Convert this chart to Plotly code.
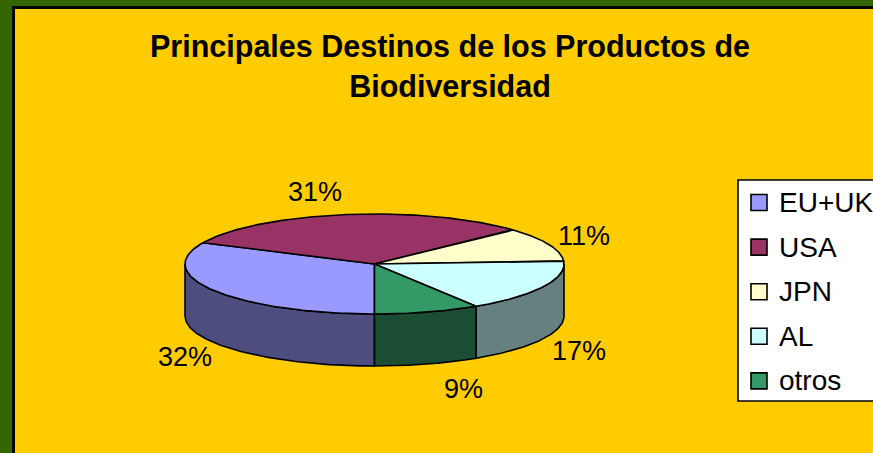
import numpy as np
import plotly.graph_objects as go

# ---------------- data ----------------
categories = ["EU+UK", "USA", "JPN", "AL", "otros"]
values = [32, 31, 11, 17, 9]
top_colors = ["#9999FF", "#993366", "#FFFFCC", "#CCFFFF", "#339966"]
side_colors = ["#4D4D80", "#4D1A33", "#808066", "#668080", "#1A4D33"]
title_text = "Principales Destinos de los Productos de<br>Biodiversidad"

# ---------------- geometry / style ----------------
W, H = 873, 453
CX, CY, RX, RY, DEPTH = 374.5, 264, 189.5, 50, 52
START = 180          # first slice starts at 6 o'clock, clockwise
FONT = "Arial, Liberation Sans, sans-serif"

total = float(sum(values))
fracs = np.array(values) / total
ends = START + np.cumsum(fracs) * 360
starts = ends - fracs * 360


def pt(theta_deg, dy=0.0):
    t = np.radians(theta_deg)
    return CX + RX * np.sin(t), CY - RY * np.cos(t) + dy


def px(x):
    return x / W


def py(y):
    return 1 - y / H


fig = go.Figure()

# side walls (front half only)
for i in range(len(values)):
    a0, a1 = starts[i], ends[i]
    for k in (0, 360):
        lo, hi = max(a0, 90 + k), min(a1, 270 + k)
        if hi > lo:
            th = np.linspace(lo, hi, 80)
            xt, yt = pt(th)
            xb, yb = pt(th[::-1], DEPTH)
            x = np.concatenate([xt, xb, xt[:1]])
            y = np.concatenate([yt, yb, yt[:1]])
            fig.add_trace(go.Scatter(
                x=x, y=y, mode="lines", fill="toself",
                fillcolor=side_colors[i],
                line=dict(color="black", width=1.6),
                hoverinfo="skip", showlegend=False))

# top face slices
for i in range(len(values)):
    th = np.linspace(starts[i], ends[i], 120)
    xs, ys = pt(th)
    x = np.concatenate([[CX], xs, [CX]])
    y = np.concatenate([[CY], ys, [CY]])
    fig.add_trace(go.Scatter(
        x=x, y=y, mode="lines", fill="toself",
        fillcolor=top_colors[i],
        line=dict(color="black", width=1.6),
        name=categories[i], hoverinfo="skip", showlegend=False))

annotations = []
# percentage labels
for i in range(len(values)):
    mid = (starts[i] + ends[i]) / 2
    s, c = np.sin(np.radians(mid)), np.cos(np.radians(mid))
    ex, ey = pt(mid, DEPTH if c < 0 else 0)
    ax, ay = ex + 33 * np.sign(s) + 3, ey - 25 * c + (2 if c > 0 else 1)
    annotations.append(dict(
        x=ax, y=ay, xref="x", yref="y", showarrow=False,
        text=f"{values[i] / total * 100:.0f}%",
        xanchor="center", yanchor="middle",
        font=dict(family=FONT, size=27, color="black")))

# title
annotations.append(dict(
    x=450, y=66, xref="x", yref="y", showarrow=False,
    text=title_text, xanchor="center", yanchor="middle",
    font=dict(family=FONT, size=30.5, color="black", weight="bold")))

LEG_X0, LEG_Y0B, LEG_Y1B = 738, 180, 401
shapes = [
    # yellow chart area with black inner frame
    dict(type="rect", xref="paper", yref="paper",
         x0=px(13.5), y0=py(7.5), x1=px(W + 40), y1=py(H + 40),
         fillcolor="#FFCC00", line=dict(color="black", width=3), layer="below"),
    # legend box
    dict(type="rect", xref="paper", yref="paper",
         x0=px(LEG_X0), y0=py(LEG_Y0B), x1=px(W + 40), y1=py(LEG_Y1B),
         fillcolor="white", line=dict(color="black", width=1.6), layer="above"),
]

# legend rows
LEG_Y0, LEG_DY = 202.5, 44.6
for i, cat in enumerate(categories):
    yc = LEG_Y0 + i * LEG_DY
    shapes.append(dict(type="rect", xref="paper", yref="paper",
                       x0=px(751), x1=px(767), y0=py(yc - 8), y1=py(yc + 8),
                       fillcolor=top_colors[i],
                       line=dict(color="black", width=1.6)))
    annotations.append(dict(
        x=777, y=yc, xref="x", yref="y", showarrow=False, text=cat,
        xanchor="left", yanchor="middle",
        font=dict(family=FONT, size=28, color="black")))

fig.update_layout(
    width=W, height=H, autosize=False,
    margin=dict(l=0, r=0, t=0, b=0),
    paper_bgcolor="#336600",
    plot_bgcolor="rgba(0,0,0,0)",
    xaxis=dict(range=[0, W], visible=False, fixedrange=True),
    yaxis=dict(range=[H, 0], visible=False, fixedrange=True),
    shapes=shapes,
    annotations=annotations,
    showlegend=False,
)

fig.write_html(
    "out.html",
    config={"displayModeBar": False},
    post_script="document.body.style.margin='0px';document.body.style.overflow='hidden';",
)
